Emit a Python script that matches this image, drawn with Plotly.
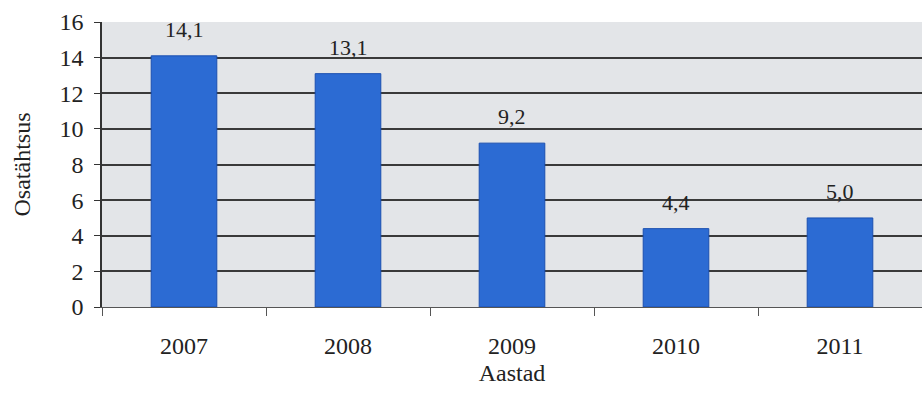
import plotly.graph_objects as go

years = ["2007", "2008", "2009", "2010", "2011"]
values = [14.1, 13.1, 9.2, 4.4, 5.0]
labels = ["14,1", "13,1", "9,2", "4,4", "5,0"]
y_ticks = [0, 2, 4, 6, 8, 10, 12, 14, 16]

font = "Liberation Serif, Times New Roman, serif"

fig = go.Figure(go.Bar(
    x=years, y=values,
    marker=dict(color="#2c6bd3", line=dict(color="#1a4fb0", width=1)),
    width=0.4,
))
for i, (v, lab) in enumerate(zip(values, labels)):
    fig.add_annotation(x=i, y=v, xref="x", yref="y", text=lab, showarrow=False,
                       yanchor="bottom", yshift=12,
                       font=dict(family=font, size=22, color="#222"))

fig.update_layout(
    width=922, height=403,
    margin=dict(l=102, r=0, t=22, b=96),
    paper_bgcolor="white", plot_bgcolor="#e3e5e8",
    showlegend=False,
    font=dict(family=font, size=22, color="#222"),
)
fig.update_xaxes(
    type="category", categoryorder="array", categoryarray=years, range=[-0.5, 4.5],
    showgrid=False, showline=True, linecolor="#555", linewidth=1,
    ticks="outside", tickson="boundaries", ticklen=8, tickcolor="#555",
    ticklabelstandoff=17, tickangle=0,
    tickfont=dict(family=font, size=24, color="#222"),
    title=dict(text="Aastad", font=dict(family=font, size=24, color="#222"), standoff=6),
)
fig.update_yaxes(
    range=[0, 16], tickvals=y_ticks, showgrid=True, gridcolor="#3a3a3a", gridwidth=1.5,
    showline=True, linecolor="#333", linewidth=1.5, ticks="outside", ticklen=6, tickcolor="#333",
    ticklabelstandoff=6,
    tickfont=dict(family=font, size=24, color="#222"), zeroline=False,
    title=dict(text="Osatähtsus", font=dict(family=font, size=24, color="#222"), standoff=22),
)

fig.write_html("out.html")
